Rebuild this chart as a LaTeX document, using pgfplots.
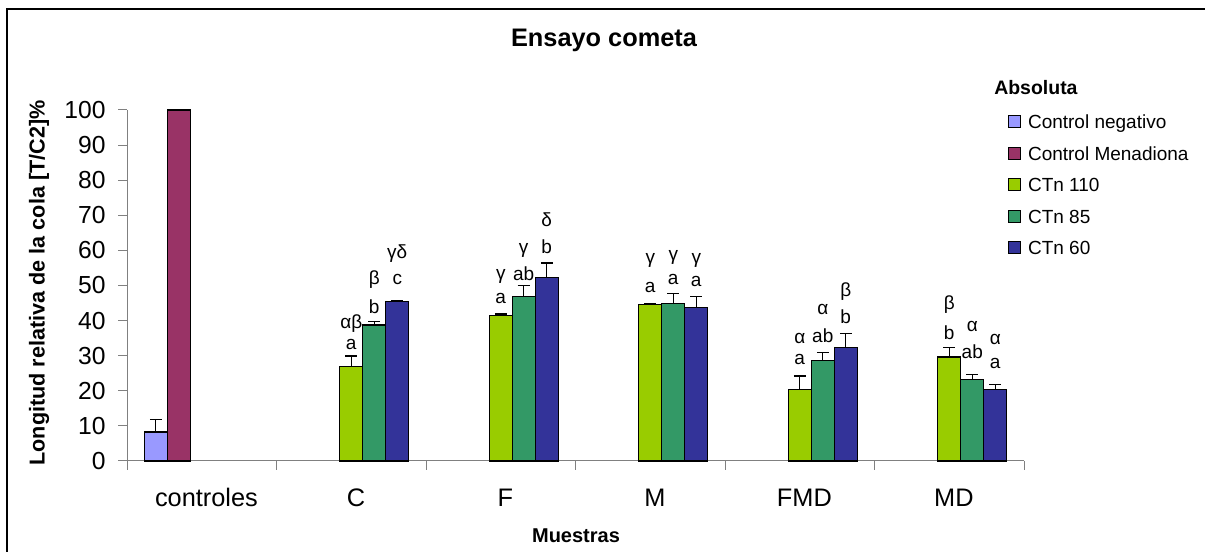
\documentclass[border=0pt]{standalone}
\usepackage{pgfplots}
\pgfplotsset{compat=1.18}
\usepackage{fontspec}
\setmainfont{Liberation Sans}
\definecolor{cneg}{RGB}{153,153,255}
\definecolor{cmen}{RGB}{153,51,102}
\definecolor{cl}{RGB}{153,204,0}
\definecolor{cm}{RGB}{51,153,102}
\definecolor{cn}{RGB}{51,51,153}
\definecolor{axgray}{RGB}{128,128,128}
\newcommand\annfont{\fontsize{14.25}{14.25}\selectfont}
\newcommand\lab[3]{\node[anchor=base,font=\annfont,inner sep=0pt] at (axis cs:#1,#2) {#3};}
\begin{document}
\begin{tikzpicture}
\useasboundingbox (0,0) rectangle (903.75pt,414pt);
\draw[line width=1.5pt] (5.25pt,0pt) -- (5.25pt,407.25pt) -- (903.75pt,407.25pt);
\begin{axis}[
  at={(95.25pt,68.25pt)}, anchor=south west,
  scale only axis, width=672.75pt, height=263.25pt,
  xmin=-0.5, xmax=5.5, ymin=0, ymax=100,
  clip=false,
  axis x line*=bottom, axis y line*=left,
  axis line style={draw=axgray, line width=0.75pt},
  ytick={0,10,...,100},
  xtick={0,...,5},
  xticklabels={controles,C,F,M,FMD,MD},
  minor xtick={-0.5,0.5,...,5.5},
  major x tick style={draw=none},
  minor x tick style={draw=axgray, line width=0.75pt},
  y tick style={draw=axgray, line width=0.75pt},
  tick align=outside, major tick length=6.5pt, minor tick length=6.5pt,
  /pgf/number format/assume math mode=true,
  yticklabel style={font=\fontsize{18.5}{18.5}\selectfont, anchor=east, inner sep=0pt, xshift=-9.4pt},
  xticklabel style={font=\fontsize{19}{19}\selectfont, anchor=base, inner sep=0pt, yshift=-27.3pt, xshift=3.5pt},
  legend style={at={(0.9822,0.9932)}, anchor=north west, draw=none, fill=none,
    inner sep=0pt, outer sep=0pt, font=\fontsize{14.25}{14.25}\selectfont,
    row sep=9.2pt, column sep=5.25pt,
    nodes={inner sep=0pt, text height=12.4pt, text depth=2pt}},
  legend cell align=left,
  legend image code/.code={\draw[#1,draw=black,line width=0.75pt] (0pt,-4.5pt) rectangle (9pt,4.5pt);},
]
\addplot[ybar, bar width=0.1538, bar shift=0pt, fill=cneg, draw=black, line width=1pt,
  error bars/.cd, y dir=plus, y explicit,
  error bar style={black, line width=1pt},
  error mark options={rotate=90, mark size=4.5pt, black, line width=1pt}]
  coordinates {(-0.3077,8.3) +- (0,3.6)};
\addlegendentry{Control negativo}
\addplot[ybar, bar width=0.1538, bar shift=0pt, fill=cmen, draw=black, line width=1pt]
  coordinates {(-0.1538,100)};
\addlegendentry{Control Menadiona}
\addplot[ybar, bar width=0.1538, bar shift=0pt, fill=cl, draw=black, line width=1pt,
  error bars/.cd, y dir=plus, y explicit,
  error bar style={black, line width=1pt},
  error mark options={rotate=90, mark size=4.5pt, black, line width=1pt}]
  coordinates {(1,26.9) +- (0,3.0) (2,41.5) +- (0,0.4) (3,44.5) +- (0,0.4) (4,20.4) +- (0,3.8) (5,29.6) +- (0,2.8)};
\addlegendentry{CTn 110}
\addplot[ybar, bar width=0.1538, bar shift=0pt, fill=cm, draw=black, line width=1pt,
  error bars/.cd, y dir=plus, y explicit,
  error bar style={black, line width=1pt},
  error mark options={rotate=90, mark size=4.5pt, black, line width=1pt}]
  coordinates {(1.1538,38.7) +- (0,1.1) (2.1538,46.8) +- (0,3.2) (3.1538,44.9) +- (0,2.9) (4.1538,28.6) +- (0,2.3) (5.1538,23.2) +- (0,1.4)};
\addlegendentry{CTn 85}
\addplot[ybar, bar width=0.1538, bar shift=0pt, fill=cn, draw=black, line width=1pt,
  error bars/.cd, y dir=plus, y explicit,
  error bar style={black, line width=1pt},
  error mark options={rotate=90, mark size=4.5pt, black, line width=1pt}]
  coordinates {(1.3077,45.5) +- (0,0.1) (2.3077,52.2) +- (0,4.2) (3.3077,43.7) +- (0,3.1) (4.3077,32.4) +- (0,4.0) (5.3077,20.4) +- (0,1.4)};
\addlegendentry{CTn 60}
% C
\lab{1}{31.9}{a} \lab{1}{37.8}{αβ}
\lab{1.1538}{42.0}{b} \lab{1.1538}{50.4}{β}
\lab{1.3077}{50.2}{c} \lab{1.3077}{57.6}{γδ}
% F
\lab{2}{44.9}{a} \lab{2}{51.6}{γ}
\lab{2.1538}{51.3}{ab} \lab{2.1538}{59.0}{γ}
\lab{2.3077}{59.1}{b} \lab{2.3077}{66.8}{δ}
% M
\lab{3}{48.1}{a} \lab{3}{56.4}{γ}
\lab{3.1538}{50.2}{a} \lab{3.1538}{57.1}{γ}
\lab{3.3077}{49.7}{a} \lab{3.3077}{56.4}{γ}
% FMD
\lab{4}{27.4}{a} \lab{4}{33.6}{α}
\lab{4.1538}{33.9}{ab} \lab{4.1538}{41.8}{α}
\lab{4.3077}{39.3}{b} \lab{4.3077}{46.8}{β}
% MD
\lab{5}{34.6}{b} \lab{5}{43.3}{β}
\lab{5.1538}{29.1}{ab} \lab{5.1538}{36.9}{α}
\lab{5.3077}{26.4}{a} \lab{5.3077}{33.3}{α}
\end{axis}
\node[anchor=base, font=\bfseries\fontsize{19}{19}\selectfont, inner sep=0pt] at (453pt,378.98pt) {Ensayo cometa};
\node[rotate=90, font=\bfseries\fontsize{16.2}{16.2}\selectfont, inner sep=0pt] at (29.25pt,201.75pt) {Longitud relativa de la cola [T/C2]\%};
\node[anchor=base, font=\bfseries\fontsize{15}{15}\selectfont, inner sep=0pt] at (432pt,7pt) {Muestras};
\node[anchor=base west, font=\bfseries\fontsize{14.6}{14.6}\selectfont, inner sep=0pt] at (745.5pt,343.3pt) {Absoluta};
\end{tikzpicture}
\end{document}
